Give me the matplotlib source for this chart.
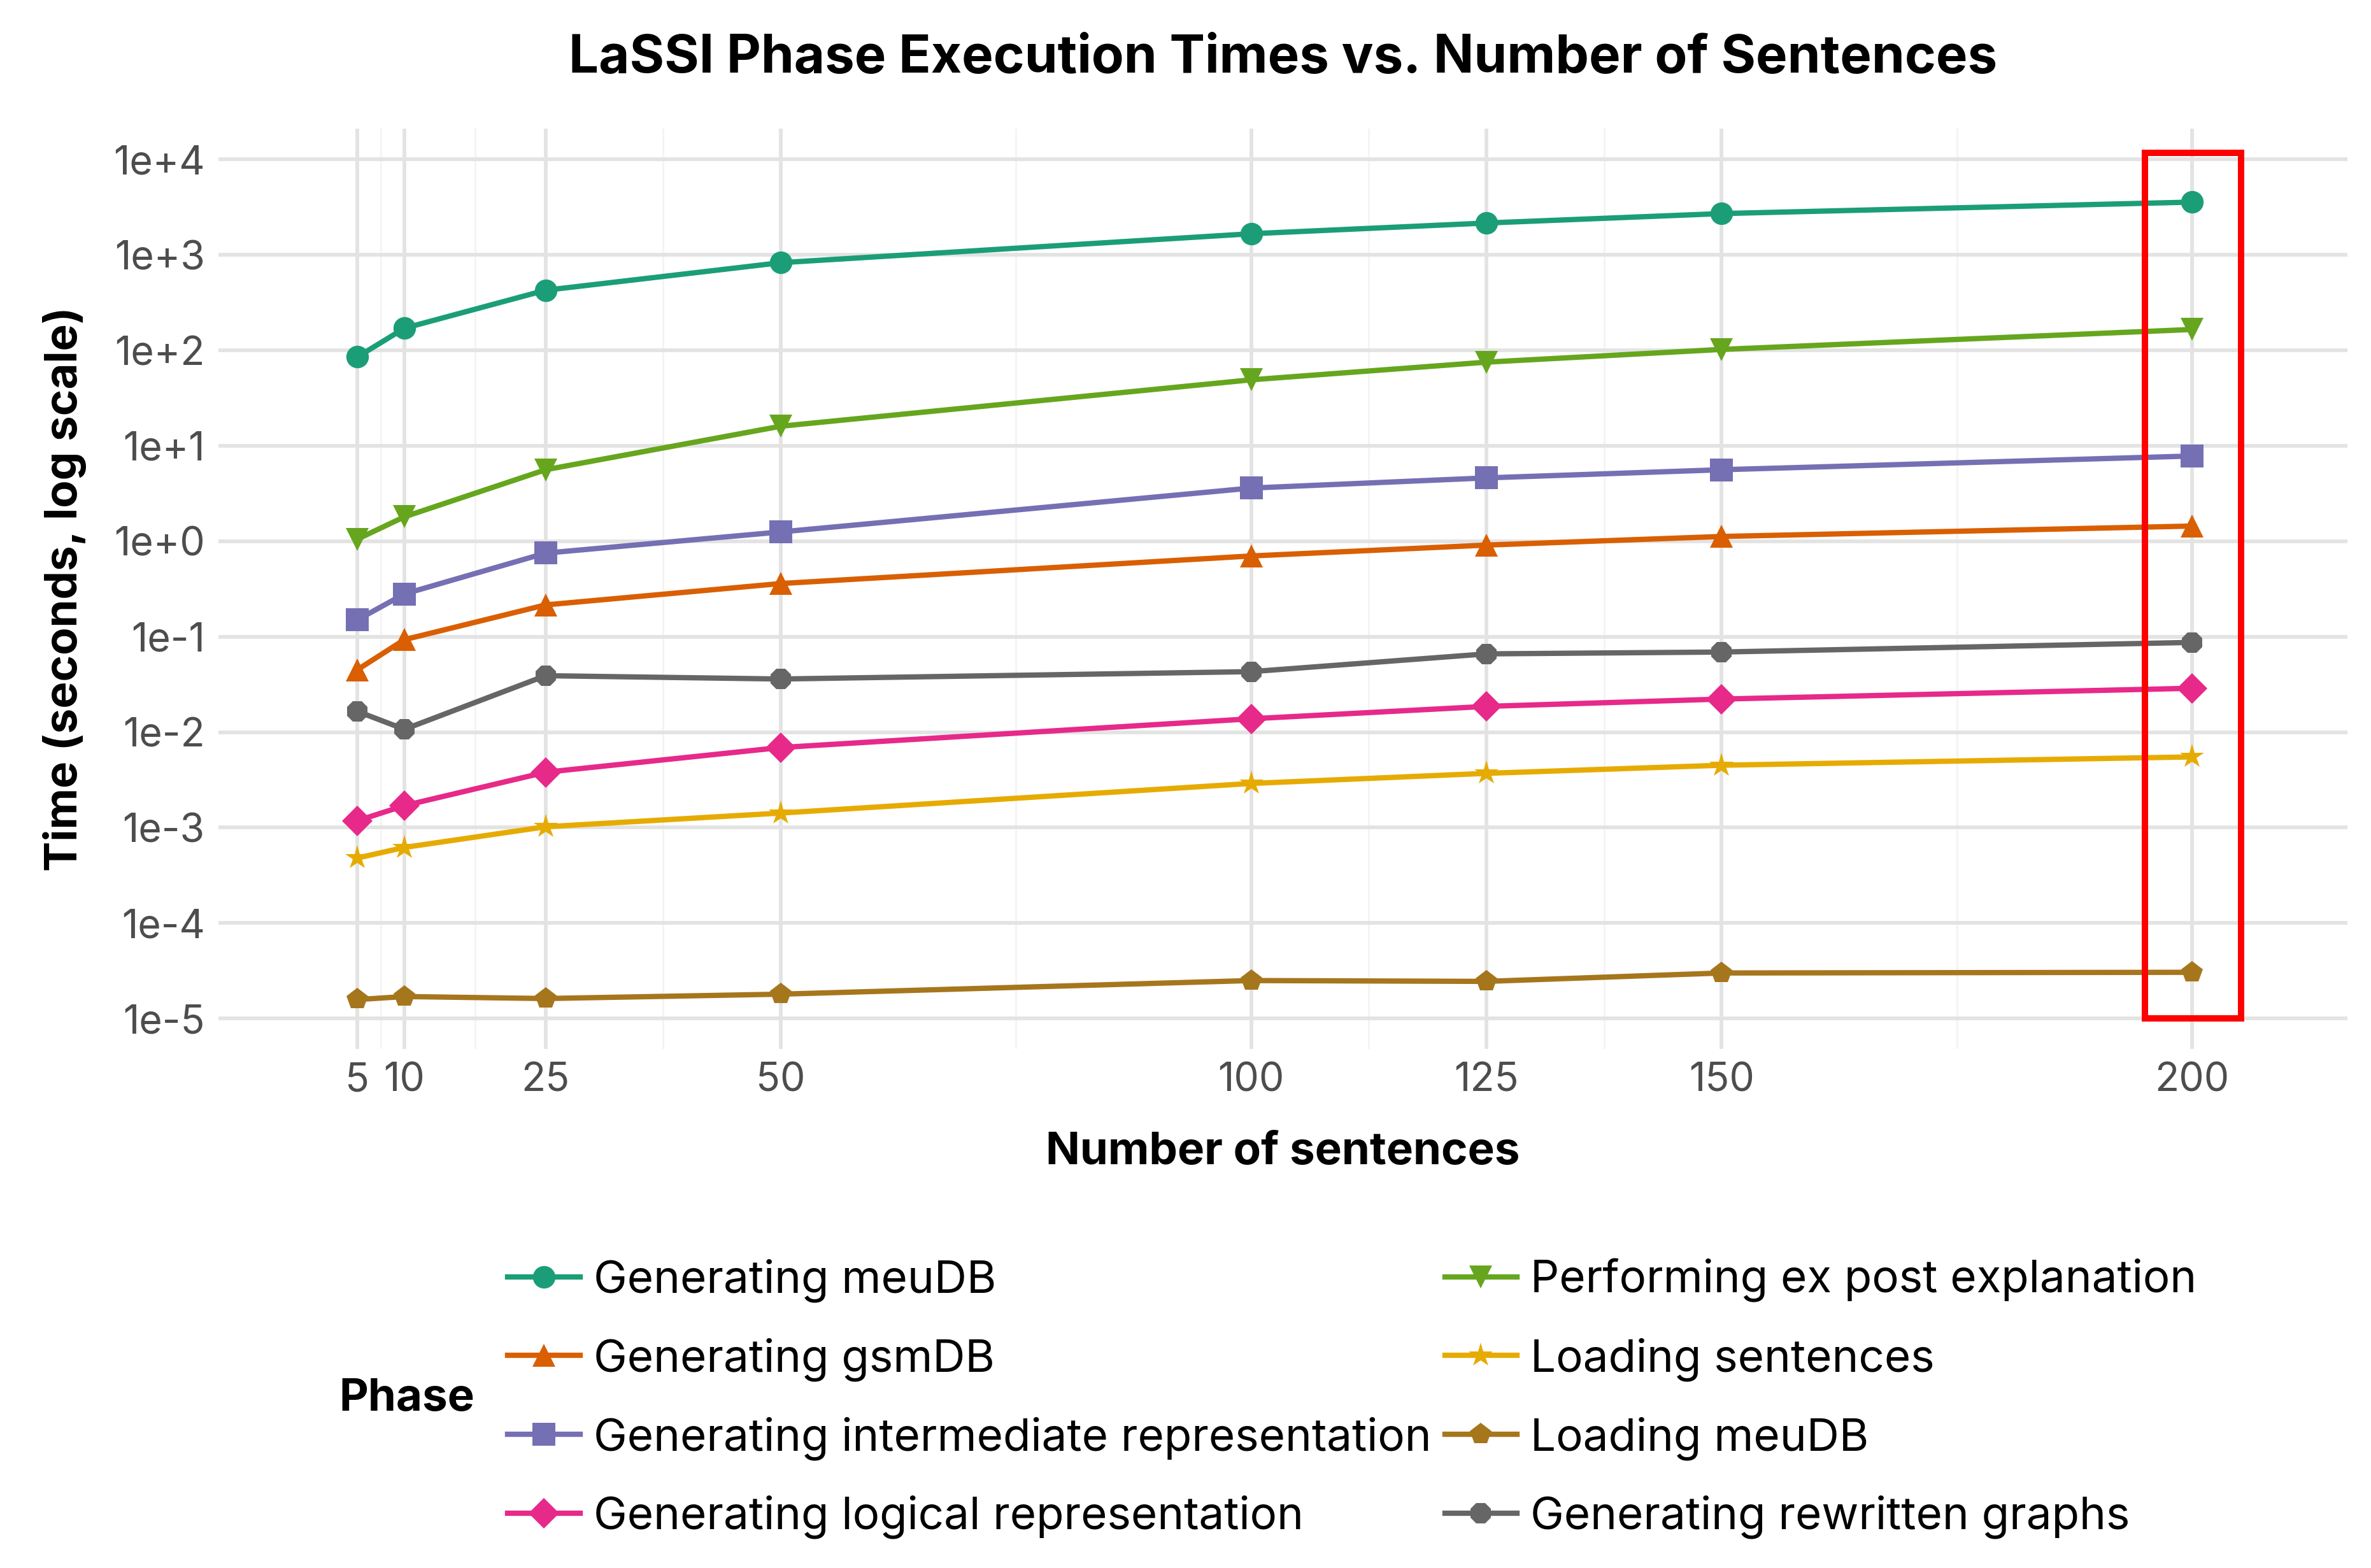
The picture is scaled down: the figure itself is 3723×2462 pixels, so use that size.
import numpy as np
from matplotlib import pyplot as plt
from matplotlib.lines import Line2D
from matplotlib.patches import Rectangle

plt.rcParams['font.family'] = ['Inter', 'DejaVu Sans']

# number of sentences
sentences = [5, 10, 25, 50, 100, 125, 150, 200]

# execution times (seconds)
meudb_gen = [85, 170, 425, 826, 1660, 2150, 2700, 3560]
expost = [1.05, 1.8, 5.6, 16, 49, 75, 102, 165]
intermediate = [0.15, 0.28, 0.75, 1.25, 3.6, 4.6, 5.6, 7.8]
gsmdb_gen = [0.045, 0.093, 0.215, 0.36, 0.70, 0.91, 1.12, 1.44]
rewritten = [0.0165, 0.0107, 0.039, 0.036, 0.043, 0.066, 0.069, 0.087]
logical = [0.00118, 0.0017, 0.0038, 0.0069, 0.0138, 0.0186, 0.0222, 0.0288]
loading_sent = [0.00048, 0.00062, 0.00102, 0.00142, 0.0029, 0.0037, 0.0045, 0.0055]
loading_meudb = [1.58e-5, 1.7e-5, 1.62e-5, 1.8e-5, 2.5e-5, 2.45e-5, 3.0e-5, 3.05e-5]

phases = ["Generating meuDB", "Generating gsmDB",
          "Generating intermediate representation", "Generating logical representation",
          "Performing ex post explanation", "Loading sentences",
          "Loading meuDB", "Generating rewritten graphs"]
series = [meudb_gen, gsmdb_gen, intermediate, logical,
          expost, loading_sent, loading_meudb, rewritten]
colors = ['#1B9E77', '#D95F02', '#7570B3', '#E7298A',
          '#66A61E', '#E6AB02', '#A6761D', '#666666']
markers = ['o', '^', 's', 'D', 'v', '*', 'p', '8']
msizes = [8.5, 8.5, 8.5, 8, 8.5, 9.5, 8.5, 8.5]

fig = plt.figure(figsize=(12.41, 8.207), dpi=300)
ax = fig.add_axes([0.092, 0.331, 0.898, 0.587])

# draw back to front like the reference
for i in [7, 6, 5, 3, 1, 2, 4, 0]:
    ax.plot(sentences, series[i], color=colors[i], marker=markers[i],
            markersize=msizes[i], lw=2.0, markeredgewidth=0)

ax.set_yscale('log')
ax.set_xlim(-9.8, 216.5)
ax.set_ylim(4.8e-6, 2.1e4)

yt = [1e-5, 1e-4, 1e-3, 1e-2, 1e-1, 1e0, 1e1, 1e2, 1e3, 1e4]
ax.set_yticks(yt)
ax.set_yticklabels(["1e-5", "1e-4", "1e-3", "1e-2", "1e-1", "1e+0",
                    "1e+1", "1e+2", "1e+3", "1e+4"])
ax.yaxis.set_minor_locator(plt.NullLocator())
ax.set_xticks(sentences)
ax.set_xticklabels([str(s) for s in sentences])
ax.set_xticks([7.5, 17.5, 37.5, 75, 112.5, 137.5, 175], minor=True)

ax.grid(True, which='major', color='#E3E3E3', lw=1.4)
ax.grid(True, which='minor', axis='x', color='#F4F4F4', lw=0.7)
ax.set_axisbelow(True)
for s in ax.spines.values():
    s.set_visible(False)
ax.tick_params(axis='both', which='both', length=0, labelsize=15,
               labelcolor='#4D4D4D', pad=5)

ax.set_xlabel("Number of sentences", fontsize=17, fontweight='bold', labelpad=12)
ax.set_ylabel("Time (seconds, log scale)", fontsize=17, fontweight='bold', labelpad=10)
ax.set_title("LaSSI Phase Execution Times vs. Number of Sentences",
             fontsize=20, fontweight='bold', pad=21)

# highlight last point
ax.add_patch(Rectangle((195, 1e-5), 10.2, 1.16e4 - 1e-5, fill=False,
                       edgecolor='red', lw=2.4, zorder=5, clip_on=False))

handles = [Line2D([0], [0], color=c, marker=m, markersize=ms, lw=2.0, markeredgewidth=0)
           for c, m, ms in zip(colors, markers, msizes)]
fig.legend(handles, phases, ncol=2, loc='center left',
           bbox_to_anchor=(0.197, 0.108), frameon=False, fontsize=17,
           handlelength=1.6, handletextpad=0.3, columnspacing=0.3,
           labelspacing=0.78)
fig.text(0.143, 0.108, "Phase", fontsize=17, fontweight='bold', va='center')

fig.savefig("out.png", dpi=300)
